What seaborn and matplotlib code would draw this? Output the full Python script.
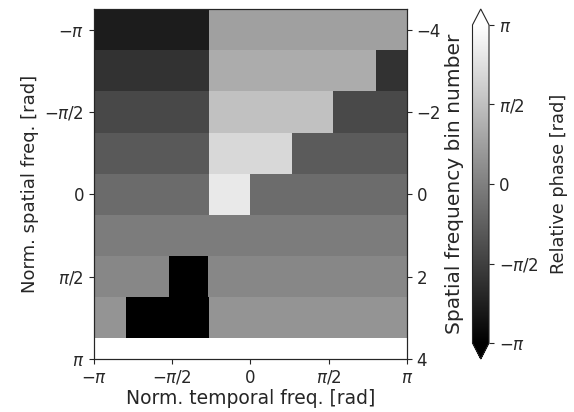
import numpy as np
import pandas as pd
import matplotlib
matplotlib.use('Agg')
import matplotlib.pyplot as plt
import seaborn as sns

sns.set_style('ticks')
plt.rcParams['font.family'] = ['DejaVu Sans']
plt.rcParams['xtick.labelsize'] = 12
plt.rcParams['ytick.labelsize'] = 12
plt.rcParams['axes.labelsize'] = 12

# Spatial frequency bins (rows, top to bottom)
bin_numbers = [-4, -3, -2, -1, 0, 1, 2, 3]

# Temporal-frequency positions [rad] where the phase jumps, per row
row_edges = [
    [-0.83],
    [-0.83, 2.52],
    [-0.83, 1.65],
    [-0.83, 0.84],
    [-0.83, 0.0],
    [],
    [-1.64, -0.85],
    [-2.50, -0.83],
]

# Relative phase [rad] on each segment of the row
row_phases = [
    [-2.45, 0.80],
    [-1.89, 1.10, -1.89],
    [-1.37, 1.61, -1.33],
    [-0.95, 2.16, -0.90],
    [-0.51, 2.58, -0.48],
    [-0.09],
    [0.19, -3.14, 0.19],
    [0.50, -3.14, 0.50],
]

phase_ticks = [-np.pi, -np.pi / 2, 0, np.pi / 2, np.pi]
phase_labels = [r'$-\pi$', r'$-\pi/2$', '0', r'$\pi/2$', r'$\pi$']
bin_ticks = [-4, -2, 0, 2, 4]

N_COLS = 720


def x_pos(p):
    """Temporal freq [rad] -> heatmap column coordinate."""
    return (np.asarray(p) + np.pi) / (2 * np.pi) * N_COLS


def y_pos(p):
    """Spatial freq [rad] -> heatmap row coordinate."""
    return (np.asarray(p) + np.pi) / (np.pi / 4) + 0.5


# Build the phase table from the step segments
x_centers = -np.pi + (np.arange(N_COLS) + 0.5) * 2 * np.pi / N_COLS
rows = []
for edges, phases in zip(row_edges, row_phases):
    idx = np.searchsorted(edges, x_centers)
    rows.append(np.asarray(phases)[idx])
phase_df = pd.DataFrame(rows, index=bin_numbers)

fig = plt.figure(figsize=(5.74, 4.12), dpi=100)
ax = fig.add_axes([94 / 574, 53 / 412, 313 / 574, 350 / 412])
cax = fig.add_axes([472.5 / 574, 53 / 412, 16.5 / 574, 350 / 412])

sns.heatmap(phase_df, ax=ax, cmap='gray', vmin=-np.pi, vmax=np.pi,
            cbar_ax=cax, cbar_kws={'extend': 'both'},
            xticklabels=False, yticklabels=False, rasterized=True)

for s in ax.spines.values():
    s.set_visible(True)
    s.set_linewidth(0.8)

ax.set_xlim(0, N_COLS)
ax.set_ylim(y_pos(np.pi), 0)
ax.set_xticks(x_pos(phase_ticks))
ax.set_xticklabels(phase_labels)
ax.set_yticks(y_pos(phase_ticks))
ax.set_yticklabels(phase_labels, rotation=0)
ax.set_xlabel('Norm. temporal freq. [rad]', fontsize=13.5, labelpad=2)
ax.set_ylabel('Norm. spatial freq. [rad]', fontsize=13)

# Right axis: bin number
ax2 = ax.twinx()
lo, hi = ax.get_ylim()
ax2.set_ylim(lo + bin_numbers[0] - 0.5, hi + bin_numbers[0] - 0.5)
ax2.set_yticks(bin_ticks)
ax2.set_ylabel('Spatial frequency bin number', fontsize=14.5, labelpad=3)

cb = ax.collections[0].colorbar
cb.outline.set_linewidth(0.8)
cb.set_ticks(phase_ticks)
cb.set_ticklabels(phase_labels)
cb.ax.tick_params(labelsize=12)
cb.set_label('Relative phase [rad]', fontsize=12.8, labelpad=8)

plt.savefig('out.png', dpi=100)
plt.close()
